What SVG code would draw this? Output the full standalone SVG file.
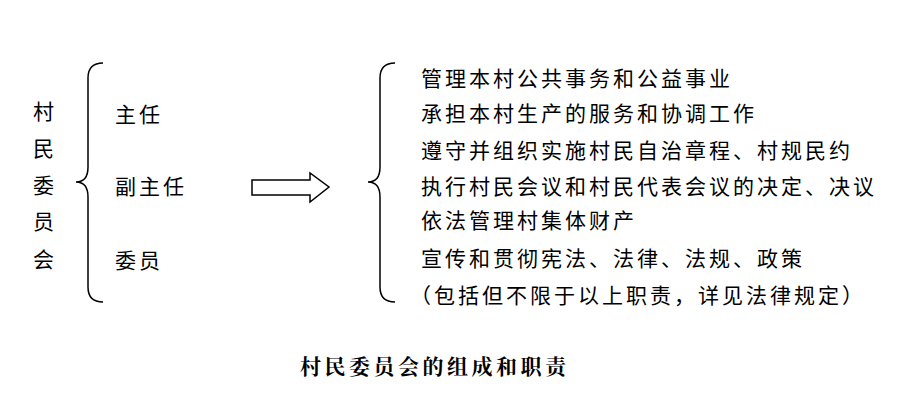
<svg xmlns="http://www.w3.org/2000/svg" width="919" height="406" viewBox="0 0 919 406">
<style>
text{font-family:"Noto Sans CJK SC",sans-serif;font-size:21px;letter-spacing:3px;fill:#000}
.b{fill:none;stroke:#000;stroke-width:1.5}
.cap{font-family:"Noto Serif CJK SC","Noto Sans CJK SC",serif;font-weight:bold;font-size:21px;letter-spacing:3.5px}
</style>
<rect width="919" height="406" fill="#fff"/>
<g id="org">
<text x="33" y="119">村</text><text x="33" y="156">民</text><text x="33" y="193">委</text><text x="33" y="229">员</text><text x="33" y="267">会</text>
</g>
<g id="members">
<path class="b" d="M103,63 Q88,63 88,78 L88,167 Q88,182 76,182 Q88,182 88,197 L88,287 Q88,302 103,302"/>
<text x="115" y="122">主任</text><text x="115" y="194">副主任</text><text x="115" y="268">委员</text>
</g>
<g id="connectors">
<path class="b" d="M252,180 L310,180 L310,173 L329,187 L310,202 L310,195 L252,195 Z"/>
</g>
<g id="duties">
<path class="b" d="M395,63 Q380,63 380,78 L380,167 Q380,182 368,182 Q380,182 380,197 L380,287 Q380,302 395,302"/>
<text x="421" y="86">管理本村公共事务和公益事业</text>
<text x="421" y="121">承担本村生产的服务和协调工作</text>
<text x="421" y="158">遵守并组织实施村民自治章程、村规民约</text>
<text x="421" y="194">执行村民会议和村民代表会议的决定、决议</text>
<text x="421" y="228">依法管理村集体财产</text>
<text x="421" y="266">宣传和贯彻宪法、法律、法规、政策</text>
<text x="410" y="303">（包括但不限于以上职责，详见法律规定）</text>
</g>
<text class="cap" x="300" y="374">村民委员会的组成和职责</text>
</svg>
